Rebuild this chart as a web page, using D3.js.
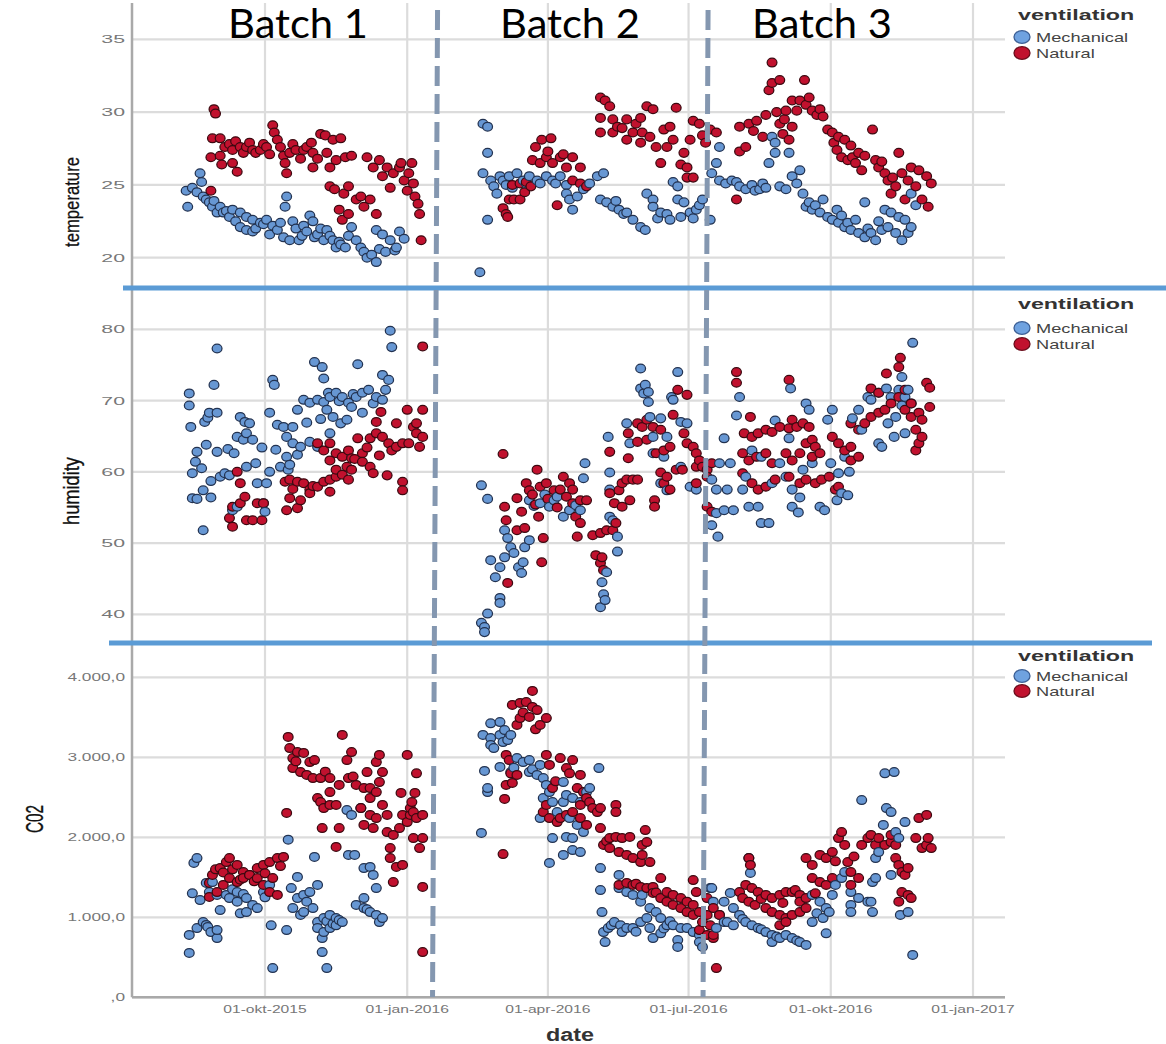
<!DOCTYPE html>
<html lang="en">
<head>
<meta charset="utf-8">
<title>temperature, humidity and CO2 by ventilation</title>
<script src="https://cdn.jsdelivr.net/npm/d3@7"></script>
<style>
  body { margin: 0; background: #fff; }
  text { font-family: "Liberation Sans", Arial, sans-serif; }
</style>
</head>
<body>
<div id="chart"></div>
<script>
// ---- data ----
var xTicks = ["2015-10-01", "2016-01-01", "2016-04-01", "2016-07-01", "2016-10-01", "2017-01-01"];
var xTickLabels = ["01-okt-2015", "01-jan-2016", "01-apr-2016", "01-jul-2016", "01-okt-2016", "01-jan-2017"];
var seriesNames = ["Mechanical", "Natural"];
var batchNames = ["Batch 1", "Batch 2", "Batch 3"];
var batchBreaks = ["2016-01-19", "2016-07-12"];

var tempTicks = [20, 25, 30, 35];
var tempTickLabels = ["20", "25", "30", "35"];
var humTicks = [40, 50, 60, 70, 80];
var humTickLabels = ["40", "50", "60", "70", "80"];
var co2Ticks = [0, 1000, 2000, 3000, 4000];
var co2TickLabels = [",0", "1.000,0", "2.000,0", "3.000,0", "4.000,0"];

var tempMech = [
  ["2015-08-11",24.6],["2015-08-12",23.5],["2015-08-15",24.8],["2015-08-18",24.5],["2015-08-20",25.8],["2015-08-21",25.2],["2015-08-22",24.2],["2015-08-24",24.0],["2015-08-26",23.8],["2015-08-28",23.5],["2015-08-31",23.1],["2015-09-02",23.5],["2015-09-04",23.1],["2015-09-08",22.8],["2015-09-10",23.3],["2015-09-15",23.1],["2015-09-15",22.1],["2015-09-19",22.8],["2015-09-19",21.9],["2015-09-23",22.6],["2015-09-23",21.8],["2015-09-28",22.4],["2015-10-02",22.6],["2015-10-06",22.2],["2015-10-09",21.9],["2015-10-13",21.4],["2015-10-14",23.5],["2015-10-15",24.2],["2015-10-17",21.2],["2015-10-19",22.5],["2015-10-21",22.0],["2015-10-23",21.2],["2015-10-26",22.2],["2015-10-28",21.8],["2015-11-01",22.5],["2015-11-04",21.6],["2015-11-06",22.0],["2015-11-08",21.2],["2015-11-10",21.9],["2015-11-14",21.2],["2015-11-16",20.7],["2015-11-19",20.9],["2015-11-22",20.7],["2015-11-26",22.1],["2015-11-29",21.2],["2015-12-02",20.7],["2015-12-04",20.4],["2015-12-06",20.0],["2015-12-09",20.2],["2015-12-12",19.7],["2015-12-12",21.9],["2015-12-16",21.6],["2015-12-21",21.2],["2015-12-24",20.5],["2015-12-25",20.7],["2015-12-27",21.8],["2015-12-30",21.3],
  ["2015-08-29",23.9],["2015-09-06",23.2],["2015-09-12",22.5],["2015-09-25",22.0],["2015-09-30",22.3],["2015-10-04",21.6],["2015-10-11",22.4],["2015-10-25",21.5],["2015-10-30",22.9],["2015-11-02",21.4],["2015-11-12",21.5],["2015-11-18",21.1],["2015-11-24",21.5],["2015-12-14",20.6],["2015-12-18",20.4],
  ["2016-02-17",19.0],["2016-02-19",29.2],["2016-02-22",29.0],["2016-02-22",27.2],["2016-02-22",22.6],["2016-02-19",25.8],["2016-02-24",25.3],["2016-02-26",24.9],["2016-02-28",24.4],["2016-03-01",25.6],["2016-03-03",25.3],["2016-03-07",25.6],["2016-03-12",25.8],["2016-03-16",25.3],["2016-03-20",25.6],["2016-03-25",25.3],["2016-03-27",25.1],["2016-03-31",25.6],["2016-04-04",25.3],["2016-04-09",25.6],["2016-04-13",25.0],["2016-04-13",24.4],["2016-04-15",24.0],["2016-04-17",23.3],["2016-04-20",24.2],["2016-04-24",24.7],["2016-04-28",25.1],["2016-05-03",25.6],["2016-05-07",25.8],["2016-05-05",24.0],["2016-05-09",23.8],["2016-05-13",23.5],["2016-05-17",23.3],["2016-05-22",23.1],["2016-05-26",22.6],["2016-05-31",22.1],["2016-06-03",21.9],["2016-06-04",24.4],["2016-06-08",24.0],["2016-06-08",23.5],["2016-06-13",23.1],["2016-06-17",23.0],["2016-06-21",25.2],["2016-06-24",24.9],["2016-06-24",24.0],["2016-06-26",22.8],["2016-06-28",23.8],["2016-07-02",23.1],["2016-07-06",23.3],["2016-07-10",24.0],["2016-07-15",22.6],
  ["2016-03-05",25.0],["2016-03-09",24.8],["2016-03-18",25.1],["2016-04-06",25.1],["2016-05-15",23.9],["2016-05-20",23.0],["2016-06-11",22.7],["2016-06-19",22.6],["2016-07-04",22.7],["2016-07-08",23.6],
  ["2016-07-16",25.8],["2016-07-19",26.5],["2016-07-21",27.6],["2016-07-21",25.3],["2016-07-25",25.1],["2016-07-29",25.3],["2016-08-03",24.9],["2016-08-07",24.7],["2016-08-11",25.0],["2016-08-16",24.7],["2016-08-20",24.8],["2016-08-22",26.5],["2016-08-24",28.3],["2016-08-26",27.9],["2016-08-26",27.2],["2016-08-29",24.9],["2016-09-02",24.7],["2016-09-04",27.2],["2016-09-06",25.6],["2016-09-09",25.1],["2016-09-11",26.0],["2016-09-13",24.4],["2016-09-15",23.5],["2016-09-19",23.3],["2016-09-24",23.1],["2016-09-26",24.0],["2016-09-29",22.8],["2016-10-02",22.6],["2016-10-05",23.3],["2016-10-06",22.4],["2016-10-10",22.1],["2016-10-14",21.9],["2016-10-17",22.6],["2016-10-19",21.7],["2016-10-23",21.4],["2016-10-23",23.8],["2016-10-27",21.7],["2016-10-30",21.2],["2016-11-03",21.9],["2016-11-05",23.3],["2016-11-07",22.1],["2016-11-09",23.1],["2016-11-12",21.7],["2016-11-14",22.8],["2016-11-16",21.2],["2016-11-18",22.6],["2016-11-20",21.7],["2016-11-22",22.1],["2016-11-22",24.4],["2016-11-25",23.6],
  ["2016-08-01",25.2],["2016-08-13",24.6],["2016-08-18",25.1],["2016-09-17",23.8],["2016-09-21",23.6],["2016-10-08",22.9],["2016-10-12",22.4],["2016-10-25",22.0],["2016-11-01",22.5]
];

var tempNat = [
  ["2015-08-27",24.6],["2015-08-27",26.9],["2015-08-28",28.2],["2015-08-29",30.2],["2015-08-30",29.9],["2015-09-02",28.2],["2015-09-02",27.0],["2015-09-03",26.4],["2015-09-08",27.8],["2015-09-10",27.4],["2015-09-10",26.5],["2015-09-13",25.9],["2015-09-15",27.6],["2015-09-19",27.6],["2015-09-23",27.4],["2015-09-28",27.4],["2015-10-02",27.6],["2015-10-06",29.1],["2015-10-07",28.6],["2015-10-09",28.1],["2015-10-11",27.6],["2015-10-13",27.0],["2015-10-14",26.5],["2015-10-15",25.8],["2015-10-17",27.2],["2015-10-21",27.4],["2015-10-26",27.4],["2015-10-28",27.6],["2015-11-01",26.2],["2015-11-01",27.2],["2015-11-06",28.5],["2015-11-09",28.4],["2015-11-10",27.2],["2015-11-12",26.2],["2015-11-14",28.1],["2015-11-16",26.7],["2015-11-19",28.2],["2015-11-12",24.9],["2015-11-15",24.7],["2015-11-18",23.3],["2015-11-20",22.6],["2015-11-21",24.4],["2015-11-24",23.0],["2015-11-24",24.9],["2015-11-29",24.0],["2015-12-02",24.2],["2015-12-04",23.5],["2015-12-06",26.9],["2015-12-08",24.0],["2015-12-10",26.2],["2015-12-12",23.0],["2015-12-14",26.7],["2015-12-19",26.2],["2015-12-23",25.8],["2015-12-27",26.2],["2015-12-28",26.5],["2015-12-30",25.3],["2016-01-01",24.6],["2016-01-02",25.8],["2016-01-04",26.5],["2016-01-05",25.1],["2016-01-06",24.2],["2016-01-08",23.7],["2016-01-09",23.0],["2016-01-10",21.2],
  ["2015-09-05",27.6],["2015-09-12",28.0],["2015-09-17",27.2],["2015-09-21",27.9],["2015-09-25",27.2],["2015-09-30",27.8],["2015-10-04",27.1],["2015-10-19",27.8],["2015-10-24",26.8],["2015-10-31",27.9],["2015-11-04",26.8],["2015-11-22",26.9],["2015-11-26",27.0],["2015-12-16",25.6],["2015-12-21",24.8],
  ["2016-03-03",23.4],["2016-03-05",23.0],["2016-03-06",22.8],["2016-03-07",24.0],["2016-03-10",24.0],["2016-03-14",24.0],["2016-03-09",25.0],["2016-03-14",25.1],["2016-03-18",25.2],["2016-03-21",24.9],["2016-03-22",26.7],["2016-03-24",27.6],["2016-03-27",26.5],["2016-03-28",28.1],["2016-03-31",26.9],["2016-04-03",28.2],["2016-04-04",26.5],["2016-04-07",23.6],["2016-04-09",26.9],["2016-04-13",26.2],["2016-04-17",25.3],["2016-04-17",26.9],["2016-04-22",26.2],["2016-04-22",25.1],["2016-04-26",24.9],["2016-05-05",31.0],["2016-05-08",30.8],["2016-05-11",30.4],["2016-05-05",29.6],["2016-05-05",28.6],["2016-05-13",28.6],["2016-05-16",29.0],["2016-05-13",29.5],["2016-05-22",29.5],["2016-05-22",28.1],["2016-05-26",28.6],["2016-05-31",29.6],["2016-05-31",27.9],["2016-06-04",30.4],["2016-06-08",30.2],["2016-06-06",28.3],["2016-06-10",27.6],["2016-06-13",26.5],["2016-06-15",28.8],["2016-06-17",27.6],["2016-06-21",28.1],["2016-06-23",30.3],["2016-06-26",26.4],["2016-06-30",26.2],["2016-06-30",25.5],["2016-06-28",27.2],["2016-07-02",28.1],["2016-07-04",25.5],["2016-07-04",29.4],["2016-07-08",29.2],["2016-07-10",28.4],["2016-07-15",28.8],["2016-07-19",28.6],
  ["2016-04-01",27.3],["2016-04-11",27.1],["2016-03-17",24.5],["2016-05-19",28.9],["2016-06-01",28.6],["2016-06-19",29.0],["2016-07-12",27.9],["2016-05-28",29.2],
  ["2016-08-01",24.0],["2016-08-03",27.3],["2016-08-07",27.6],["2016-08-03",29.0],["2016-08-09",29.2],["2016-08-14",29.4],["2016-08-18",28.3],["2016-08-20",29.8],["2016-08-22",31.5],["2016-08-24",32.0],["2016-08-24",33.4],["2016-08-29",32.2],["2016-08-29",29.2],["2016-08-31",28.5],["2016-09-02",30.1],["2016-09-04",28.1],["2016-09-06",30.8],["2016-09-06",29.0],["2016-09-09",30.1],["2016-09-11",30.8],["2016-09-14",32.2],["2016-09-15",30.5],["2016-09-19",30.1],["2016-09-22",29.8],["2016-09-26",29.7],["2016-09-29",28.8],["2016-10-02",28.6],["2016-10-05",27.4],["2016-10-06",28.3],["2016-10-08",26.9],["2016-10-10",28.1],["2016-10-12",26.7],["2016-10-14",27.7],["2016-10-17",26.5],["2016-10-19",27.2],["2016-10-21",26.0],["2016-10-23",27.0],["2016-10-28",28.8],["2016-10-30",26.7],["2016-11-01",26.2],["2016-11-05",25.8],["2016-11-07",25.3],["2016-11-09",24.4],["2016-11-12",24.9],["2016-11-14",27.2],["2016-11-16",25.8],["2016-11-18",24.0],["2016-11-20",25.3],["2016-11-22",26.2],["2016-11-25",24.9],["2016-11-27",26.0],["2016-11-29",24.0],["2016-12-02",25.6],["2016-12-03",23.5],["2016-12-05",25.1],
  ["2016-08-12",28.7],["2016-08-27",30.0],["2016-09-01",29.5],["2016-09-17",31.0],["2016-09-24",30.2],["2016-10-03",27.9],["2016-10-15",26.9],["2016-11-03",26.6],["2016-11-10",25.5]
];

var humMech = [
  ["2015-08-13",71.0],["2015-08-13",69.3],["2015-08-14",66.3],["2015-08-31",77.3],["2015-08-29",72.2],["2015-08-26",68.3],["2015-08-31",68.3],["2015-08-23",67.0],["2015-08-25",67.6],["2015-08-18",62.8],["2015-08-24",63.8],["2015-08-31",62.8],["2015-09-07",63.2],["2015-09-11",62.6],["2015-08-17",61.4],["2015-08-21",60.5],["2015-08-15",59.8],["2015-08-15",56.3],["2015-08-18",56.2],["2015-08-27",56.4],["2015-08-22",57.4],["2015-08-22",51.8],["2015-08-27",58.7],["2015-09-02",59.3],["2015-09-05",59.8],["2015-09-08",59.5],["2015-09-15",67.7],["2015-09-18",67.0],["2015-09-21",66.8],["2015-09-19",65.4],["2015-09-13",64.9],["2015-09-17",64.5],["2015-09-23",64.5],["2015-09-10",54.6],["2015-09-13",55.1],["2015-09-30",55.6],["2015-10-01",54.4],["2015-09-25",61.2],["2015-09-26",58.4],["2015-10-02",58.4],["2015-09-19",60.7],["2015-10-06",72.9],["2015-10-07",72.2],["2015-10-04",68.3],["2015-10-09",66.6],["2015-10-13",66.3],["2015-10-19",66.3],["2015-10-22",68.7],["2015-10-26",70.1],["2015-10-30",69.7],["2015-10-15",64.9],["2015-10-19",64.0],["2015-10-24",63.5],["2015-10-22",62.4],["2015-10-15",62.1],["2015-10-11",60.7],["2015-10-17",61.0],["2015-10-16",60.3],["2015-10-04",60.0],["2015-11-02",75.4],["2015-11-07",74.7],["2015-11-08",73.1],["2015-11-11",71.1],["2015-11-04",70.1],["2015-11-08",69.8],["2015-11-12",70.5],["2015-11-16",71.1],["2015-11-20",70.5],["2015-11-24",69.7],["2015-11-29",70.5],["2015-12-03",71.1],["2015-12-07",71.5],["2015-12-12",70.5],["2015-12-16",70.1],["2015-12-18",71.5],["2015-12-20",72.9],["2015-12-16",73.6],["2015-11-30",75.1],["2015-11-10",68.7],["2015-11-14",67.7],["2015-11-19",66.8],["2015-11-23",67.3],["2015-11-26",69.1],["2015-12-03",68.3],["2015-11-12",65.4],["2015-12-21",79.8],["2015-12-22",77.5],["2015-10-30",64.2],["2015-11-04",63.5],
  ["2015-11-18",69.9],["2015-11-27",70.9],["2015-12-10",69.6],["2015-10-28",66.9],["2015-11-06",67.4],["2015-09-29",63.4],["2015-10-08",63.1],
  ["2016-02-18",58.1],["2016-02-22",56.2],["2016-02-24",47.6],["2016-03-01",46.6],["2016-02-27",45.2],["2016-03-04",48.0],["2016-03-04",51.8],["2016-03-06",50.7],["2016-03-08",49.4],["2016-03-10",48.6],["2016-03-13",46.6],["2016-03-16",47.3],["2016-03-15",45.8],["2016-03-17",49.4],["2016-03-20",50.4],["2016-02-22",40.1],["2016-03-01",42.3],["2016-03-01",41.6],["2016-02-18",38.8],["2016-02-20",38.2],["2016-02-20",37.5],["2016-03-20",56.0],["2016-03-27",55.6],["2016-04-02",55.1],["2016-04-07",56.5],["2016-04-11",53.7],["2016-04-15",54.6],["2016-04-22",54.6],["2016-04-25",61.2],["2016-04-24",59.1],["2016-05-10",64.9],["2016-05-11",59.9],["2016-05-11",57.5],["2016-05-13",53.2],["2016-05-16",50.9],["2016-05-16",48.8],["2016-05-11",53.7],["2016-05-09",45.9],["2016-05-06",44.5],["2016-05-07",42.8],["2016-05-05",41.0],["2016-05-08",42.0],["2016-05-22",66.8],["2016-05-24",64.0],["2016-05-31",74.5],["2016-05-31",71.7],["2016-06-03",72.2],["2016-06-05",71.2],["2016-06-05",69.8],["2016-06-02",71.0],["2016-06-06",67.7],["2016-06-13",67.5],["2016-06-08",64.9],["2016-06-17",64.9],["2016-06-21",70.1],["2016-06-20",70.5],["2016-06-24",74.0],["2016-06-08",62.6],["2016-06-15",62.1],["2016-06-17",57.4],["2016-06-13",58.4],["2016-06-26",67.0],["2016-06-30",66.8],["2016-06-26",60.7],["2016-07-02",57.9],["2016-07-06",57.5],["2016-07-16",58.9],["2016-07-16",52.5],["2016-07-20",50.9],["2016-07-19",54.2],
  ["2016-03-23",55.2],["2016-03-30",56.8],["2016-04-05",56.0],["2016-04-19",55.3],
  ["2016-07-24",64.7],["2016-07-28",61.2],["2016-07-21",61.2],["2016-07-26",57.5],["2016-07-19",57.5],["2016-07-24",54.6],["2016-07-30",54.6],["2016-08-03",70.5],["2016-08-01",67.9],["2016-08-11",63.0],["2016-08-07",59.3],["2016-08-05",57.5],["2016-08-09",55.1],["2016-08-15",55.1],["2016-08-17",52.8],["2016-08-22",52.8],["2016-08-17",62.1],["2016-08-24",58.4],["2016-08-26",67.2],["2016-08-29",61.2],["2016-09-02",59.3],["2016-09-06",57.5],["2016-09-11",56.4],["2016-09-06",55.1],["2016-09-04",64.7],["2016-09-05",71.7],["2016-09-10",54.3],["2016-09-15",69.6],["2016-09-17",68.7],["2016-09-13",60.3],["2016-09-19",61.2],["2016-09-24",55.1],["2016-09-27",54.6],["2016-10-02",68.7],["2016-09-29",67.3],["2016-10-01",61.2],["2016-10-05",56.0],["2016-10-08",57.0],["2016-10-12",56.7],["2016-10-06",59.8],["2016-10-13",60.0],["2016-10-10",62.1],["2016-10-15",67.5],["2016-10-19",68.7],["2016-10-21",65.9],["2016-10-25",70.5],["2016-10-27",70.1],["2016-11-01",71.1],["2016-11-06",71.7],["2016-11-09",70.5],["2016-11-14",71.5],["2016-11-18",70.5],["2016-11-16",69.3],["2016-11-12",67.7],["2016-11-07",66.8],["2016-11-01",64.0],["2016-11-03",63.5],["2016-11-11",64.9],["2016-11-18",65.4],["2016-11-23",78.1],["2016-11-16",73.3],["2016-11-20",71.5],["2016-11-22",69.6]
];

var humNat = [
  ["2015-09-13",60.0],["2015-09-15",58.4],["2015-09-18",56.5],["2015-09-15",55.6],["2015-09-10",55.1],["2015-09-08",53.5],["2015-09-10",52.3],["2015-09-19",53.2],["2015-09-23",53.2],["2015-09-29",53.2],["2015-09-26",55.6],["2015-09-30",55.6],["2015-10-14",58.6],["2015-10-17",58.9],["2015-10-22",58.6],["2015-10-26",58.4],["2015-10-30",57.5],["2015-11-04",57.9],["2015-11-08",58.6],["2015-11-12",58.9],["2015-11-16",59.3],["2015-11-20",59.6],["2015-11-24",58.9],["2015-10-15",54.6],["2015-10-22",54.9],["2015-10-17",56.3],["2015-10-24",56.0],["2015-10-30",57.0],["2015-11-12",57.2],["2015-11-04",64.0],["2015-11-08",63.0],["2015-11-12",64.0],["2015-11-16",62.6],["2015-11-20",62.1],["2015-11-24",63.0],["2015-11-26",61.9],["2015-12-03",62.6],["2015-11-12",61.6],["2015-11-16",60.3],["2015-11-23",60.7],["2015-11-26",60.3],["2015-12-03",61.4],["2015-12-08",60.7],["2015-12-10",59.8],["2015-11-30",64.7],["2015-12-08",64.7],["2015-12-12",65.4],["2015-12-16",64.9],["2015-12-20",64.0],["2015-12-25",63.5],["2015-12-29",64.0],["2016-01-02",64.0],["2016-01-07",65.4],["2016-01-07",66.8],["2016-01-05",66.3],["2016-01-11",64.9],["2016-01-09",63.5],["2015-12-12",67.0],["2015-12-25",66.8],["2016-01-01",68.7],["2016-01-11",68.7],["2015-12-19",59.5],["2015-12-29",58.6],["2015-12-29",57.4],["2016-01-11",77.6],["2015-12-15",68.4],
  ["2015-10-19",57.6],["2015-11-01",58.0],["2015-11-28",61.8],["2015-12-06",63.4],["2015-12-14",62.3],["2015-12-22",63.0],
  ["2016-03-03",62.5],["2016-03-25",60.3],["2016-03-04",55.1],["2016-03-05",53.2],["2016-03-12",56.3],["2016-03-15",54.4],["2016-03-17",52.1],["2016-03-12",51.8],["2016-03-29",50.7],["2016-03-28",47.3],["2016-03-06",44.4],["2016-03-18",58.4],["2016-03-20",57.4],["2016-03-27",57.9],["2016-03-31",58.4],["2016-04-05",57.4],["2016-03-26",53.7],["2016-04-11",59.3],["2016-04-15",58.4],["2016-04-09",57.5],["2016-04-13",56.5],["2016-04-17",57.5],["2016-04-17",55.6],["2016-04-22",56.0],["2016-04-26",56.0],["2016-04-19",53.7],["2016-04-22",52.8],["2016-04-20",50.9],["2016-04-30",51.1],["2016-05-05",51.4],["2016-05-09",51.8],["2016-05-13",51.8],["2016-05-15",52.8],["2016-05-02",48.3],["2016-05-06",48.0],["2016-05-05",47.2],["2016-05-07",46.2],["2016-05-11",57.0],["2016-05-14",55.6],["2016-05-17",57.4],["2016-05-19",58.4],["2016-05-22",58.9],["2016-05-26",58.9],["2016-05-29",58.9],["2016-05-24",56.0],["2016-05-19",55.1],["2016-05-11",62.8],["2016-05-23",61.9],["2016-05-23",65.4],["2016-05-29",66.8],["2016-06-01",66.3],["2016-06-04",67.3],["2016-06-08",66.3],["2016-06-13",65.9],["2016-05-29",64.2],["2016-06-04",64.5],["2016-06-10",62.6],["2016-06-15",63.0],["2016-06-19",63.5],["2016-06-13",59.9],["2016-06-17",59.3],["2016-06-15",58.4],["2016-06-19",57.5],["2016-06-23",60.3],["2016-06-27",60.3],["2016-06-09",56.0],["2016-06-09",55.1],["2016-06-24",71.5],["2016-06-30",70.8],["2016-06-21",68.0],["2016-06-28",65.4],["2016-06-30",64.0],["2016-07-04",63.5],["2016-07-06",62.6],["2016-07-08",61.6],["2016-07-10",60.7],["2016-07-13",60.3],["2016-07-13",59.3],["2016-07-16",61.2],["2016-07-06",60.7],["2016-07-06",58.4],["2016-07-13",55.1],["2016-07-16",54.4],
  ["2016-03-22",56.8],["2016-03-24",55.4],["2016-04-01",56.2],["2016-04-07",55.0],
  ["2016-08-01",74.0],["2016-08-01",72.5],["2016-08-10",67.7],["2016-08-06",65.4],["2016-08-11",64.9],["2016-08-15",65.4],["2016-08-20",65.9],["2016-08-24",65.6],["2016-08-29",66.3],["2016-09-04",66.1],["2016-09-06",67.3],["2016-09-09",66.3],["2016-09-13",66.8],["2016-09-17",66.3],["2016-08-05",62.6],["2016-08-09",61.6],["2016-08-14",62.1],["2016-08-20",62.6],["2016-08-24",61.2],["2016-09-02",62.6],["2016-09-06",61.6],["2016-09-11",62.6],["2016-09-15",64.0],["2016-09-19",64.5],["2016-09-21",63.5],["2016-09-24",62.6],["2016-09-19",62.1],["2016-08-05",59.8],["2016-08-11",58.4],["2016-08-15",57.5],["2016-08-20",57.9],["2016-08-26",58.9],["2016-09-04",59.3],["2016-09-11",58.4],["2016-09-15",58.9],["2016-09-21",58.4],["2016-09-25",58.9],["2016-09-30",59.3],["2016-10-04",57.5],["2016-10-06",57.9],["2016-09-04",72.9],["2016-10-02",64.9],["2016-10-06",64.0],["2016-10-10",63.0],["2016-10-14",63.5],["2016-10-19",62.1],["2016-10-14",61.6],["2016-10-14",66.8],["2016-10-19",65.9],["2016-10-23",66.8],["2016-10-27",67.7],["2016-11-01",68.3],["2016-11-05",68.7],["2016-11-09",69.6],["2016-11-14",70.5],["2016-10-27",71.7],["2016-11-01",71.1],["2016-11-06",73.8],["2016-11-14",74.7],["2016-11-15",76.0],["2016-11-18",71.5],["2016-11-22",69.6],["2016-11-18",68.7],["2016-11-22",67.7],["2016-11-27",68.3],["2016-11-29",67.3],["2016-11-25",65.9],["2016-11-29",64.9],["2016-11-27",64.0],["2016-11-25",63.0],["2016-12-04",69.1],["2016-12-02",72.5],["2016-12-04",71.8]
];

var co2Mech = [
  ["2015-08-13",555],["2015-08-13",780],["2015-08-18",865],["2015-08-22",940],["2015-08-25",880],["2015-08-27",815],["2015-08-31",740],["2015-08-31",840],["2015-08-24",905],["2015-08-18",1740],["2015-08-16",1680],["2015-08-15",1300],["2015-08-20",1215],["2015-08-26",1315],["2015-08-31",1280],["2015-09-06",1280],["2015-09-08",1240],["2015-09-13",1195],["2015-09-19",1240],["2015-09-23",1155],["2015-09-26",1115],["2015-09-02",1090],["2015-09-15",1050],["2015-09-19",1065],["2015-08-24",1430],["2015-08-28",1440],["2015-09-13",1315],["2015-09-30",1315],["2015-10-04",1405],["2015-10-05",900],["2015-10-15",840],["2015-10-06",365],["2015-10-16",1970],["2015-10-18",1365],["2015-10-22",1505],["2015-10-26",1280],["2015-10-30",1315],["2015-11-04",1405],["2015-10-22",1240],["2015-10-19",1115],["2015-10-24",1030],["2015-10-28",1195],["2015-11-01",1115],["2015-10-26",1065],["2015-11-02",1755],["2015-11-04",940],["2015-11-08",990],["2015-11-12",1030],["2015-11-16",990],["2015-11-20",940],["2015-11-04",865],["2015-11-08",815],["2015-11-12",865],["2015-11-16",900],["2015-11-07",740],["2015-11-07",565],["2015-11-10",365],["2015-11-24",1780],["2015-11-28",1780],["2015-11-23",2340],["2015-11-26",2280],["2015-12-02",2365],["2015-12-04",1615],["2015-12-08",1630],["2015-12-10",1530],["2015-12-12",1365],["2015-11-29",1155],["2015-12-04",1115],["2015-12-08",1065],["2015-12-12",1030],["2015-12-16",990],["2015-12-14",940],["2015-12-04",1240],
  ["2015-09-10",1350],["2015-09-17",1290],["2015-10-01",1250],["2015-11-10",950],["2015-11-14",920],["2015-11-18",965],["2015-12-06",1100],
  ["2016-02-24",3425],["2016-03-01",3440],["2016-02-19",3280],["2016-02-24",3240],["2016-03-01",3280],["2016-03-03",3190],["2016-02-24",3155],["2016-02-26",3115],["2016-03-06",3215],["2016-03-08",3280],["2016-02-20",2830],["2016-02-22",2565],["2016-02-22",2615],["2016-02-18",2055],["2016-03-01",2880],["2016-03-08",2815],["2016-03-12",2990],["2016-03-16",2940],["2016-03-20",2965],["2016-03-27",2905],["2016-03-20",2815],["2016-03-25",2780],["2016-03-29",2740],["2016-03-31",2655],["2016-04-02",2565],["2016-03-29",2490],["2016-04-04",2440],["2016-04-07",2315],["2016-03-27",2240],["2016-04-04",1990],["2016-04-02",1680],["2016-04-11",2690],["2016-04-13",2530],["2016-04-17",2490],["2016-04-22",2440],["2016-04-26",2565],["2016-04-28",2615],["2016-04-11",2440],["2016-04-15",2240],["2016-04-20",2155],["2016-04-24",2065],["2016-04-17",1990],["2016-04-13",2005],["2016-04-11",1780],["2016-04-17",1840],["2016-04-22",1815],["2016-05-04",2865],["2016-05-05",1615],["2016-05-17",1530],["2016-05-05",1340],["2016-05-06",1065],["2016-05-14",940],["2016-05-07",815],["2016-05-10",865],["2016-05-08",690],["2016-05-18",900],["2016-05-19",815],["2016-05-22",865],["2016-05-26",865],["2016-05-31",940],["2016-06-04",990],["2016-06-06",865],["2016-06-08",740],["2016-06-13",800],["2016-06-24",715],["2016-06-24",630],["2016-05-17",1365],["2016-05-22",1315],["2016-05-26",1280],["2016-05-31",1195],["2016-06-01",1280],["2016-06-06",1115],["2016-06-10",1065],["2016-06-13",990],["2016-06-17",900],["2016-06-21",900],["2016-06-26",865],["2016-06-30",865],["2016-07-04",815],["2016-07-08",780],["2016-07-08",690],["2016-07-10",630],
  ["2016-03-04",3340],["2016-03-10",2870],["2016-03-22",2850],["2016-05-12",900],["2016-05-28",820],["2016-06-15",860],["2016-06-19",950],
  ["2016-07-16",1365],["2016-07-15",1365],["2016-07-17",1195],["2016-07-24",1195],["2016-07-28",1305],["2016-07-30",1115],["2016-08-03",1030],["2016-08-07",940],["2016-08-11",900],["2016-08-15",865],["2016-08-20",815],["2016-08-24",780],["2016-08-29",740],["2016-09-02",780],["2016-09-06",740],["2016-09-11",690],["2016-09-15",655],["2016-08-24",690],["2016-07-21",1030],["2016-07-26",940],["2016-07-30",900],["2016-07-19",865],["2016-07-24",940],["2016-08-09",1740],["2016-08-10",1555],["2016-09-19",1280],["2016-09-24",1195],["2016-09-28",1115],["2016-09-30",1065],["2016-09-26",990],["2016-09-19",940],["2016-09-28",800],["2016-10-04",1405],["2016-10-08",1490],["2016-10-10",1565],["2016-10-14",1315],["2016-10-14",1155],["2016-10-19",1240],["2016-10-14",1065],["2016-10-25",1195],["2016-10-28",1440],["2016-10-30",1490],["2016-10-21",2465],["2016-11-05",2800],["2016-11-11",2815],["2016-11-06",2365],["2016-11-09",2315],["2016-11-04",2155],["2016-11-18",2190],["2016-11-14",1990],["2016-11-12",2065],["2016-10-30",1740],["2016-11-01",1815],["2016-10-27",1195],["2016-10-28",1065],["2016-11-15",1030],["2016-11-20",1065],["2016-11-23",530],["2016-11-09",1530],
  ["2016-08-05",980],["2016-08-17",850],["2016-08-27",760],["2016-09-09",710],["2016-09-22",1050],["2016-10-02",1280]
];

var co2Nat = [
  ["2015-08-26",1430],["2015-08-28",1530],["2015-09-02",1615],["2015-09-06",1690],["2015-09-08",1740],["2015-09-13",1655],["2015-09-17",1565],["2015-09-21",1530],["2015-09-26",1615],["2015-09-30",1655],["2015-10-04",1690],["2015-10-09",1740],["2015-10-13",1755],["2015-08-26",1255],["2015-08-31",1315],["2015-09-04",1405],["2015-09-08",1490],["2015-09-13",1440],["2015-09-17",1490],["2015-09-21",1530],["2015-09-26",1490],["2015-09-30",1405],["2015-10-04",1315],["2015-10-09",1280],["2015-10-06",1490],["2015-10-16",3255],["2015-10-17",3115],["2015-10-19",2990],["2015-10-22",3065],["2015-10-26",3055],["2015-10-15",2305],["2015-10-19",2865],["2015-10-24",2815],["2015-10-28",2780],["2015-11-01",2740],["2015-10-30",2940],["2015-11-02",2965],["2015-11-06",2740],["2015-11-12",2740],["2015-11-04",2490],["2015-11-06",2440],["2015-11-08",2365],["2015-11-12",2405],["2015-11-16",2405],["2015-11-12",2565],["2015-11-18",2655],["2015-11-07",2115],["2015-11-18",2115],["2015-11-16",1880],["2015-11-20",3280],["2015-11-26",3065],["2015-11-23",2965],["2015-11-24",2740],["2015-11-29",2655],["2015-12-04",2615],["2015-12-08",2615],["2015-12-12",2565],["2015-12-02",2365],["2015-12-08",2280],["2015-12-12",2240],["2015-12-04",2155],["2015-12-10",2115],["2015-12-16",2405],["2015-12-19",2280],["2015-12-08",2490],["2015-12-14",3030],["2015-12-12",2940],["2015-12-16",2815],["2015-12-06",2815],["2015-12-14",2690],["2015-12-19",2065],["2015-12-23",2030],["2015-12-21",1865],["2015-12-21",1740],["2015-12-25",1630],["2015-12-29",1655],["2015-12-23",1440],["2015-12-27",2115],["2016-01-01",2190],["2015-12-29",2280],["2016-01-03",2280],["2016-01-05",2315],["2016-01-07",2240],["2016-01-11",2280],["2015-12-28",2555],["2016-01-06",2555],["2016-01-04",2440],["2016-01-03",2365],["2016-01-01",3030],["2016-01-07",2800],["2016-01-05",1990],["2016-01-11",1990],["2016-01-09",1865],["2016-01-11",1380],["2016-01-11",565],
  ["2015-08-30",1600],["2015-09-04",1560],["2015-09-10",1600],["2015-09-15",1470],["2015-09-24",1450],["2015-10-01",1550],["2015-10-11",1640],["2015-10-21",2950],["2015-11-09",2820],["2015-11-27",2760],
  ["2016-03-22",3830],["2016-03-09",3655],["2016-03-14",3680],["2016-03-18",3690],["2016-03-22",3630],["2016-03-25",3590],["2016-03-14",3490],["2016-03-20",3505],["2016-03-27",3405],["2016-03-12",3405],["2016-03-31",3490],["2016-03-07",2965],["2016-03-08",2800],["2016-03-12",2780],["2016-03-05",2655],["2016-03-09",2680],["2016-03-04",2480],["2016-03-03",1790],["2016-03-05",3030],["2016-04-04",2615],["2016-03-31",2405],["2016-03-29",2315],["2016-04-02",2240],["2016-04-07",2190],["2016-03-31",3030],["2016-04-02",2905],["2016-04-09",2990],["2016-04-17",2965],["2016-04-13",2865],["2016-04-15",2800],["2016-04-22",2780],["2016-04-20",2615],["2016-04-24",2565],["2016-04-26",2490],["2016-04-28",2440],["2016-04-30",2365],["2016-05-03",2315],["2016-05-05",2365],["2016-04-22",2405],["2016-04-17",2315],["2016-04-13",2280],["2016-04-09",2240],["2016-04-22",2240],["2016-04-26",2155],["2016-05-05",2115],["2016-05-15",2405],["2016-05-15",2315],["2016-05-11",1990],["2016-05-15",2005],["2016-05-19",1990],["2016-05-24",2005],["2016-05-07",1905],["2016-05-11",1865],["2016-05-17",1815],["2016-05-22",1780],["2016-05-26",1740],["2016-05-31",1690],["2016-06-01",1905],["2016-06-04",1940],["2016-06-01",1780],["2016-06-06",1690],["2016-06-03",2090],["2016-05-17",1405],["2016-05-22",1430],["2016-05-26",1405],["2016-05-31",1380],["2016-06-04",1365],["2016-06-08",1380],["2016-06-08",1305],["2016-06-13",1240],["2016-06-17",1195],["2016-06-21",1155],["2016-06-26",1115],["2016-06-30",1065],["2016-07-04",1030],["2016-07-08",1065],["2016-07-04",1465],["2016-06-13",1490],["2016-06-17",1315],["2016-06-21",1280],["2016-06-26",1240],["2016-06-30",1195],["2016-07-04",1155],["2016-07-06",1315],["2016-07-08",840],["2016-07-13",780],["2016-07-17",740],["2016-07-19",365],
  ["2016-03-16",3560],["2016-03-24",3350],["2016-04-06",2700],["2016-05-09",1950],["2016-05-28",1420],["2016-06-10",1310],
  ["2016-07-13",1240],["2016-07-17",1115],["2016-07-21",1030],["2016-07-10",940],["2016-07-15",900],["2016-07-17",780],["2016-07-13",1030],["2016-08-09",1740],["2016-08-10",1655],["2016-08-03",1315],["2016-08-07",1405],["2016-08-11",1365],["2016-08-15",1315],["2016-08-20",1280],["2016-08-24",1240],["2016-08-29",1280],["2016-09-02",1315],["2016-09-06",1315],["2016-09-11",1280],["2016-09-15",1240],["2016-08-05",1240],["2016-08-09",1195],["2016-08-13",1155],["2016-08-20",1115],["2016-08-24",1065],["2016-08-29",1030],["2016-09-02",990],["2016-09-06",1030],["2016-09-11",1065],["2016-09-15",1115],["2016-08-29",900],["2016-09-02",940],["2016-09-11",1195],["2016-09-15",1740],["2016-09-19",1655],["2016-09-24",1780],["2016-09-28",1740],["2016-09-19",1490],["2016-09-24",1440],["2016-09-28",1405],["2016-10-02",1490],["2016-10-06",1990],["2016-10-08",2065],["2016-10-10",1905],["2016-10-02",1815],["2016-10-12",1690],["2016-10-14",1565],["2016-10-19",1490],["2016-10-14",1405],["2016-10-21",1905],["2016-10-25",1990],["2016-10-27",2030],["2016-11-01",1990],["2016-10-30",1905],["2016-11-05",1905],["2016-11-09",1940],["2016-11-12",1740],["2016-11-14",1655],["2016-11-16",1565],["2016-11-18",1530],["2016-11-20",1615],["2016-11-12",1905],["2016-11-09",2030],["2016-11-16",1315],["2016-11-20",1280],["2016-11-14",1195],["2016-11-22",1240],["2016-11-27",2240],["2016-12-02",2280],["2016-11-25",1990],["2016-11-29",1865],["2016-12-02",1905],["2016-12-03",1990],["2016-12-05",1865],
  ["2016-08-17",1230],["2016-08-31",1180],["2016-09-08",1340],["2016-09-21",1300],["2016-10-04",1700],["2016-10-16",1760]
];

// ---- layout ----
var width = 1166, height = 1044;
var plotLeft = 132, plotRight = 1005;
var parseDate = d3.timeParse("%Y-%m-%d");

var mechFill = "#6797d3", mechStroke = "#223250";
var natFill = "#c1112e", natStroke = "#3b0910";

var svg = d3.select("#chart").append("svg").attr("width", width).attr("height", height);
svg.append("rect").attr("width", width).attr("height", height).attr("fill", "#fff");

var x = d3.scaleTime()
  .domain([parseDate(xTicks[0]), parseDate(xTicks[xTicks.length - 1])])
  .range([265, 973]);

var panels = [
  { title: "temperature", mech: tempMech, nat: tempNat, ticks: tempTicks, labels: tempTickLabels,
    y: d3.scaleLinear().domain([20, 35]).range([257.7, 39.3]), top: 3, bottom: 286,
    labelStretch: 1.85, titleX: 79, titleY: 202, titleLen: 90, titleSize: 17, titleThick: 1.2,
    legendY: 20, legendRows: [37, 53] },
  { title: "humidity", mech: humMech, nat: humNat, ticks: humTicks, labels: humTickLabels,
    y: d3.scaleLinear().domain([40, 80]).range([614.3, 329.3]), top: 290, bottom: 642,
    labelStretch: 1.85, titleX: 79, titleY: 491, titleLen: 68, titleSize: 17, titleThick: 1.25,
    legendY: 309, legendRows: [328, 344] },
  { title: "C02", mech: co2Mech, nat: co2Nat, ticks: co2Ticks, labels: co2TickLabels,
    y: d3.scaleLinear().domain([0, 4000]).range([997.3, 677.3]), top: 645, bottom: 997.3,
    labelStretch: 1.5, titleX: 43, titleY: 819, titleLen: 28, titleSize: 18, titleThick: 1.3,
    legendY: 661, legendRows: [676, 691] }
];

// stretch a text horizontally (the original picture is widened)
function stretch(sel, factor) {
  sel.each(function () {
    var w = this.getComputedTextLength();
    d3.select(this).attr("textLength", w * factor).attr("lengthAdjust", "spacingAndGlyphs");
  });
}

function drawPanel(p) {
  var g = svg.append("g").attr("class", "panel");

  g.selectAll(".vgrid").data(xTicks).enter().append("line")
    .attr("x1", d => x(parseDate(d))).attr("x2", d => x(parseDate(d)))
    .attr("y1", p.top).attr("y2", p.bottom)
    .attr("stroke", "#dcdcdc").attr("stroke-width", 2.2);

  g.selectAll(".hgrid").data(p.ticks).enter().append("line")
    .attr("x1", plotLeft).attr("x2", plotRight)
    .attr("y1", d => p.y(d)).attr("y2", d => p.y(d))
    .attr("stroke", "#dcdcdc").attr("stroke-width", 2.2);

  g.append("line")
    .attr("x1", plotLeft).attr("x2", plotLeft)
    .attr("y1", p.top).attr("y2", p.bottom)
    .attr("stroke", "#a9a9a9").attr("stroke-width", 2.5);

  var tl = g.selectAll(".ytick").data(p.ticks).enter().append("text")
    .attr("x", 125).attr("y", d => p.y(d)).attr("dy", "0.35em")
    .attr("text-anchor", "end").attr("font-size", 11.5).attr("fill", "#777")
    .text((d, k) => p.labels[k]);
  stretch(tl, p.labelStretch);

  // rotated title, thickened across its baseline like the widened original
  g.append("text")
    .attr("transform", "translate(" + p.titleX + "," + p.titleY + ") rotate(-90) scale(1," + p.titleThick + ")")
    .attr("text-anchor", "middle").attr("font-size", p.titleSize).attr("fill", "#111")
    .attr("stroke", "#111").attr("stroke-width", 0.25)
    .attr("textLength", p.titleLen).attr("lengthAdjust", "spacingAndGlyphs")
    .text(p.title);

  // points, both series mixed in date order
  var pts = p.mech.map(d => ({ date: parseDate(d[0]), v: d[1], s: 0 }))
    .concat(p.nat.map(d => ({ date: parseDate(d[0]), v: d[1], s: 1 })));
  pts.sort((a, b) => a.date - b.date || a.s - b.s);

  g.selectAll(".pt").data(pts).enter().append("ellipse")
    .attr("cx", d => x(d.date)).attr("cy", d => p.y(d.v))
    .attr("rx", 4.9).attr("ry", 4.4)
    .attr("fill", d => d.s ? natFill : mechFill)
    .attr("stroke", d => d.s ? natStroke : mechStroke)
    .attr("stroke-width", 1.25);

  // legend
  var lg = g.append("g");
  var vt = lg.append("text").attr("x", 1018).attr("y", p.legendY)
    .attr("font-size", 15).attr("font-weight", "bold").attr("fill", "#333")
    .text("ventilation");
  stretch(vt, 1.55);
  seriesNames.forEach(function (name, k) {
    var ry = p.legendRows[k];
    lg.append("ellipse").attr("cx", 1022).attr("cy", ry).attr("rx", 8).attr("ry", 6.3)
      .attr("fill", k ? natFill : "#6fa2e0").attr("stroke", k ? "#6a0d1c" : "#3c5f95").attr("stroke-width", 1.3);
    var t = lg.append("text").attr("x", 1036).attr("y", ry + 5)
      .attr("font-size", 13).attr("fill", "#444").text(name);
    stretch(t, 1.4);
  });
}

panels.forEach(drawPanel);

// x axis of the bottom panel
var bottomPanel = panels[2];
svg.append("line")
  .attr("x1", plotLeft).attr("x2", plotRight)
  .attr("y1", bottomPanel.y(0)).attr("y2", bottomPanel.y(0))
  .attr("stroke", "#a9a9a9").attr("stroke-width", 2.5);

var xl = svg.selectAll(".xtick").data(xTicks).enter().append("text")
  .attr("x", d => x(parseDate(d))).attr("y", 1013)
  .attr("text-anchor", "middle").attr("font-size", 11).attr("fill", "#777")
  .text((d, k) => xTickLabels[k]);
stretch(xl, 1.42);

var dt = svg.append("text").attr("x", 570).attr("y", 1041)
  .attr("text-anchor", "middle").attr("font-size", 18).attr("font-weight", "bold").attr("fill", "#333")
  .text("date");
stretch(dt, 1.3);

// annotations: blue separators, dashed batch borders, batch titles
svg.append("line").attr("x1", 123).attr("x2", 1166).attr("y1", 288).attr("y2", 288)
  .attr("stroke", "#5b9bd5").attr("stroke-width", 5);
svg.append("line").attr("x1", 109).attr("x2", 1152).attr("y1", 643).attr("y2", 643)
  .attr("stroke", "#5b9bd5").attr("stroke-width", 5);

svg.selectAll(".batchline").data(batchBreaks).enter().append("line")
  .attr("x1", d => x(parseDate(d)) + 2.5).attr("x2", d => x(parseDate(d)) - 2.5)
  .attr("y1", 10).attr("y2", 997)
  .attr("stroke", "#8497b0").attr("stroke-width", 5)
  .attr("stroke-dasharray", "20,8");

var batchX = [298, 570, 822];
svg.selectAll(".batch").data(batchNames).enter().append("text")
  .attr("x", (d, k) => batchX[k]).attr("y", 38)
  .attr("text-anchor", "middle")
  .style("font-family", "Lato, 'Open Sans', sans-serif").attr("font-size", 40).attr("fill", "#000")
  .attr("textLength", 140).attr("lengthAdjust", "spacingAndGlyphs")
  .text(d => d);
</script>
</body>
</html>
